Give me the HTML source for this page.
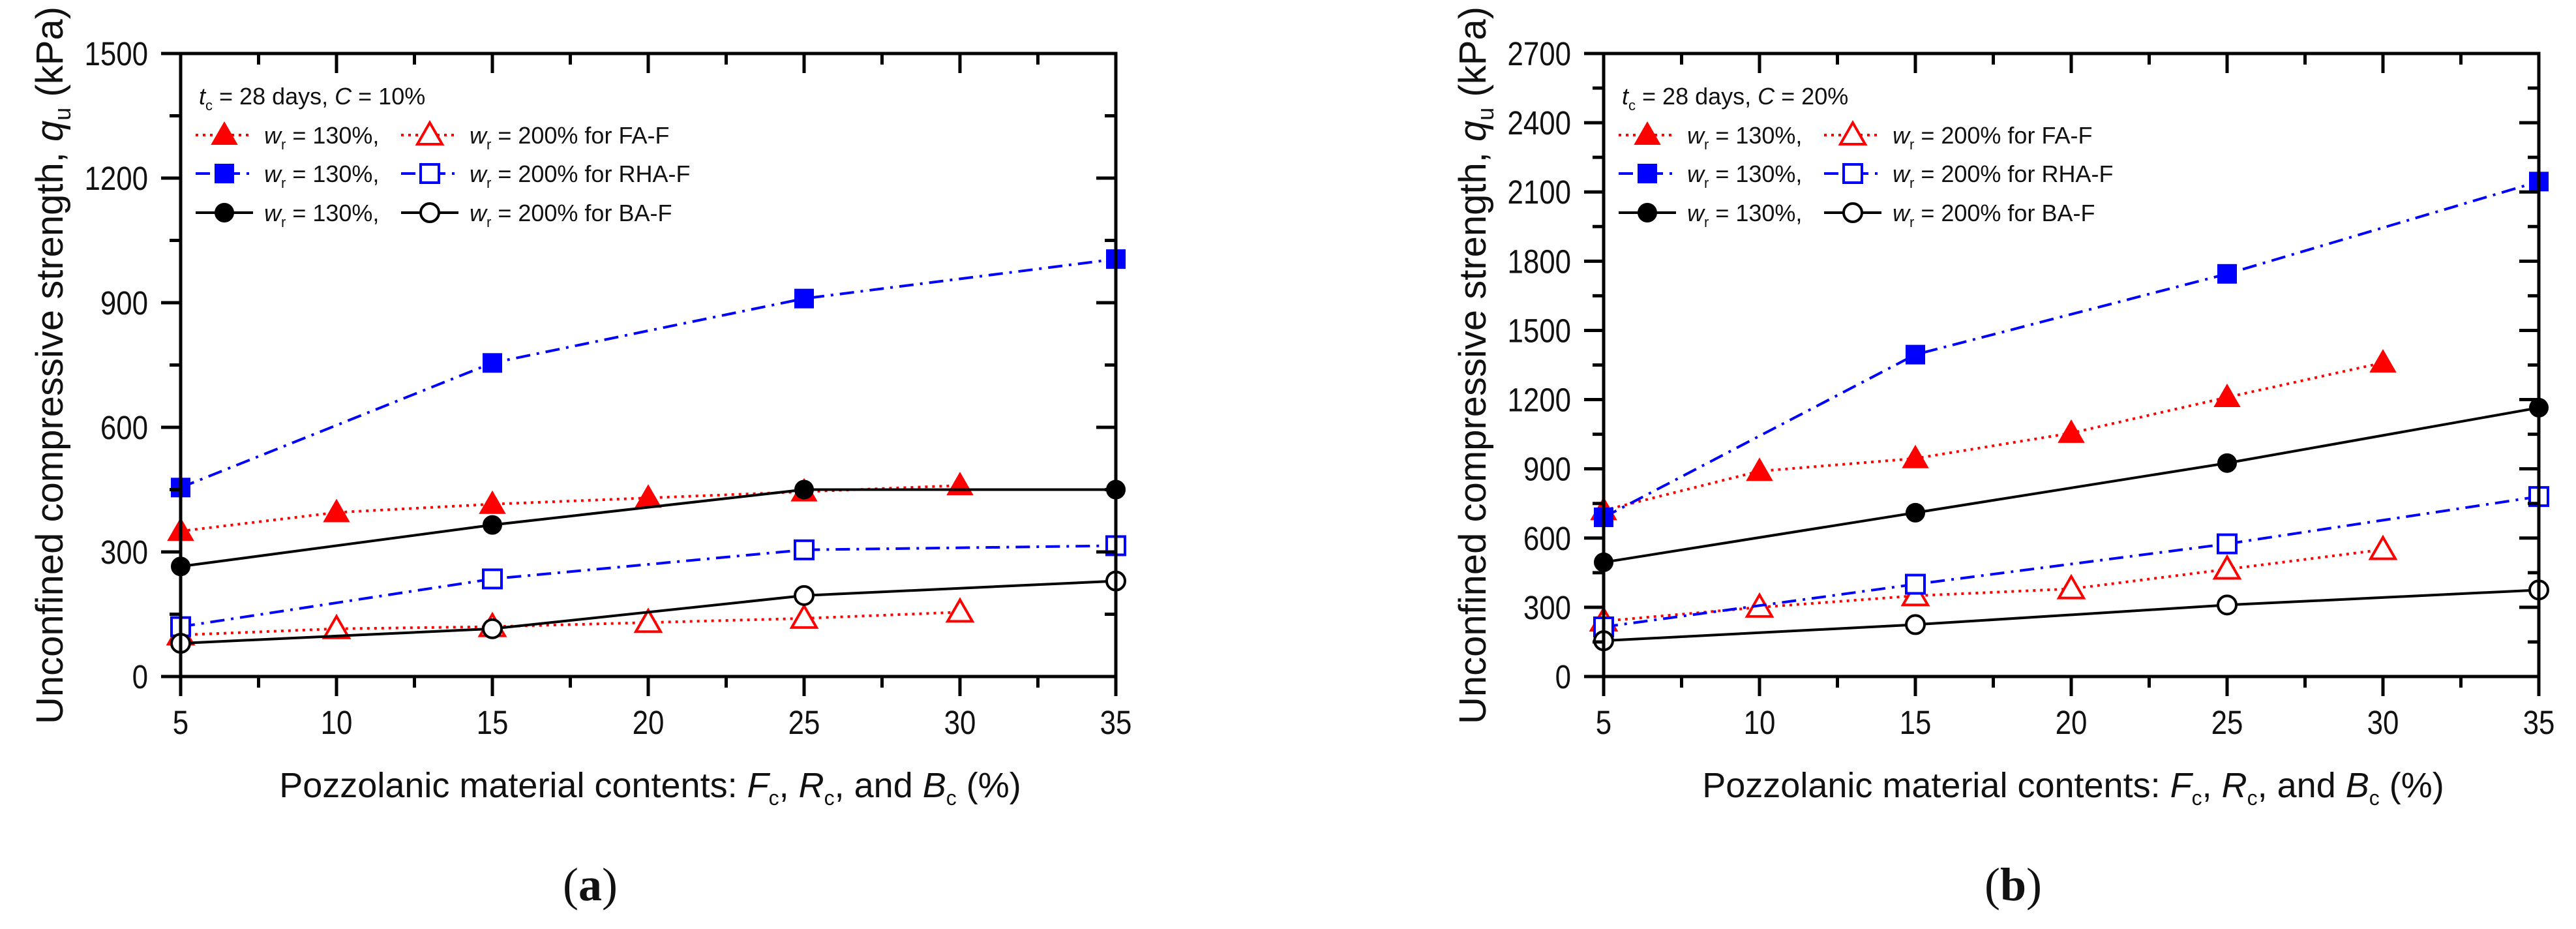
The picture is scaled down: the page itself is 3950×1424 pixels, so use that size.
<!DOCTYPE html>
<html><head><meta charset="utf-8"><style>
html,body{margin:0;padding:0;background:#fff;}
svg{display:block;}
text{font-family:"Liberation Sans",sans-serif;fill:#111;}
</style></head><body>
<svg id="chart" width="3950" height="1424" viewBox="0 0 3950 1424" xmlns="http://www.w3.org/2000/svg"></svg>
<script>
const xCats = [5, 10, 15, 20, 25, 30, 35];
const xTickLabels = ["5","10","15","20","25","30","35"];
const xFA = [5, 10, 15, 20, 25, 30];
const xRB = [5, 15, 25, 35];
// panel a (C = 10%)
const aFA130 = [350, 395, 415, 430, 445, 460];
const aFA200 = [100, 115, 120, 130, 140, 155];
const aRHA130 = [455, 755, 910, 1005];
const aRHA200 = [120, 235, 305, 315];
const aBA130 = [265, 365, 450, 450];
const aBA200 = [80, 115, 195, 230];
const aYTicks = [0, 300, 600, 900, 1200, 1500];
// panel b (C = 20%)
const bFA130 = [720, 890, 945, 1055, 1210, 1360];
const bFA200 = [240, 300, 350, 380, 465, 550];
const bRHA130 = [690, 1395, 1745, 2145];
const bRHA200 = [215, 400, 575, 780];
const bBA130 = [495, 710, 925, 1165];
const bBA200 = [155, 225, 310, 375];
const bYTicks = [0, 300, 600, 900, 1200, 1500, 1800, 2100, 2400, 2700];

const NS = "http://www.w3.org/2000/svg";
const svg = document.getElementById("chart");
function el(tag, attrs, parent, text) {
  const e = document.createElementNS(NS, tag);
  for (const k in attrs) e.setAttribute(k, attrs[k]);
  if (text !== undefined) e.textContent = text;
  (parent || svg).appendChild(e);
  return e;
}
const RED = "#ff0000", BLUE = "#0000ff", BLK = "#000";
const DOT = "4 7", DASHDOT = "22 10 4 10";

function marker(g, type, cx, cy, color, filled) {
  let m;
  if (type === "tri") {
    m = el("polygon", {points: `${cx},${cy-19} ${cx-19},${cy+14} ${cx+19},${cy+14}`}, g);
  } else if (type === "sq") {
    m = el("rect", {x: cx-14, y: cy-14, width: 28, height: 28}, g);
  } else {
    m = el("circle", {cx: cx, cy: cy, r: 14}, g);
  }
  m.setAttribute("fill", filled ? color : "#fff");
  m.setAttribute("stroke", color);
  m.setAttribute("stroke-width", filled ? 2 : 4);
  return m;
}

function panel(ox, yMax, yTicks, series, letter, cLabel) {
  const L = ox + 277, R = ox + 1711, T = 82, B = 1037;
  const xs = v => L + (v - 5) / 30 * (R - L);
  const ys = v => B - v / yMax * (B - T);
  const g = el("g", {});
  
  
  series.forEach(s => {
    const sg = el("g", {}, g);
    
    
    const pts = s.x.map((x, i) => xs(x) + "," + ys(s.y[i])).join(" ");
    const pl = el("polyline", {points: pts, fill: "none", stroke: s.color, "stroke-width": 4}, sg);
    if (s.dash) pl.setAttribute("stroke-dasharray", s.dash);
    s.x.forEach((x, i) => {
      const m = marker(sg, s.type, xs(x), ys(s.y[i]), s.color, s.filled);
      
      
    });
  });
  const ax = el("g", {stroke: BLK, "stroke-width": 5, fill: "none"}, g);
  
  
  el("rect", {x: L, y: T, width: R - L, height: B - T}, ax);
  for (let v = 5; v <= 35.01; v += 2.5) {
    const major = Math.abs((v - 5) % 5) < 0.01;
    const len = major ? 30 : 17;
    el("line", {x1: xs(v), y1: B, x2: xs(v), y2: B + len}, ax);
    el("line", {x1: xs(v), y1: T, x2: xs(v), y2: T + len}, ax);
  }
  const step = yTicks[1] - yTicks[0];
  for (let v = 0; v <= yMax + 0.01; v += step / 2) {
    const major = Math.abs(v % step) < 0.01;
    const len = major ? 30 : 17;
    el("line", {x1: L, y1: ys(v), x2: L - len, y2: ys(v)}, ax);
    el("line", {x1: R, y1: ys(v), x2: R - len, y2: ys(v)}, ax);
  }
  xCats.forEach((c, i) => {
    const t = el("text", {transform: `translate(${xs(c)},1125) scale(0.86,1)`, "text-anchor": "middle", "font-size": 51}, g, xTickLabels[i]);
    
    
  });
  yTicks.forEach(v => {
    const t = el("text", {transform: `translate(${L - 50},${ys(v) + 18}) scale(0.86,1)`, "text-anchor": "end", "font-size": 51}, g, String(v));
    
    
  });
  const yt = el("text", {transform: `translate(${ox + 96},560) rotate(-90)`, "text-anchor": "middle", "font-size": 58}, g);
  
  
  el("tspan", {}, yt, "Unconfined compressive strength, ");
  el("tspan", {"font-style": "italic"}, yt, "q");
  el("tspan", {"font-size": 36, dy: 12}, yt, "u");
  el("tspan", {dy: -12}, yt, " (kPa)");
  const xt = el("text", {x: ox + 997, y: 1222, "text-anchor": "middle", "font-size": 54}, g);
  
  
  el("tspan", {}, xt, "Pozzolanic material contents: ");
  el("tspan", {"font-style": "italic"}, xt, "F");
  el("tspan", {"font-size": 32, dy: 12}, xt, "c");
  el("tspan", {dy: -12}, xt, ", ");
  el("tspan", {"font-style": "italic"}, xt, "R");
  el("tspan", {"font-size": 32, dy: 12}, xt, "c");
  el("tspan", {dy: -12}, xt, ", and ");
  el("tspan", {"font-style": "italic"}, xt, "B");
  el("tspan", {"font-size": 32, dy: 12}, xt, "c");
  el("tspan", {dy: -12}, xt, " (%)");
  const lt = el("text", {x: ox + 905, y: 1380, "text-anchor": "middle", "font-size": 72, style: "font-family:'Liberation Serif',serif"}, g);
  
  
  el("tspan", {}, lt, "(");
  el("tspan", {"font-weight": "bold"}, lt, letter);
  el("tspan", {}, lt, ")");
  const lg = el("g", {}, g);
  
  
  const hd = el("text", {x: ox + 305, y: 160, "font-size": 36}, lg);
  el("tspan", {"font-style": "italic"}, hd, "t");
  el("tspan", {"font-size": 22, dy: 9}, hd, "c");
  el("tspan", {dy: -9}, hd, " = 28 days, ");
  el("tspan", {"font-style": "italic"}, hd, "C");
  el("tspan", {}, hd, " = " + cLabel);
  const rows = [
    ["tri", RED, DOT, "FA-F"], ["sq", BLUE, DASHDOT, "RHA-F"], ["circ", BLK, null, "BA-F"]
  ];
  const ry = [207, 266, 326];
  rows.forEach((r, i) => {
    const eg = el("g", {}, lg);
    
    
    [[300, 388, 344, true], [615, 703, 659, false]].forEach(p => {
      const ln = el("line", {x1: ox + p[0], y1: ry[i], x2: ox + p[1], y2: ry[i], stroke: r[1], "stroke-width": 4}, eg);
      if (r[2]) ln.setAttribute("stroke-dasharray", r[2]);
      marker(eg, r[0], ox + p[2], ry[i], r[1], p[3]);
    });
    const t1 = el("text", {x: ox + 405, y: ry[i] + 13, "font-size": 36}, eg);
    el("tspan", {"font-style": "italic"}, t1, "w");
    el("tspan", {"font-size": 22, dy: 9}, t1, "r");
    el("tspan", {dy: -9}, t1, " = 130%,");
    const t2 = el("text", {x: ox + 720, y: ry[i] + 13, "font-size": 36}, eg);
    el("tspan", {"font-style": "italic"}, t2, "w");
    el("tspan", {"font-size": 22, dy: 9}, t2, "r");
    el("tspan", {dy: -9}, t2, " = 200% for " + r[3]);
  });
}

function mk(fa130, fa200, r130, r200, b130, b200) {
  return [
    {name: "series-fa-f-130", x: xFA, y: fa130, color: RED, dash: DOT, type: "tri", filled: true},
    {name: "series-fa-f-200", x: xFA, y: fa200, color: RED, dash: DOT, type: "tri", filled: false},
    {name: "series-rha-f-130", x: xRB, y: r130, color: BLUE, dash: DASHDOT, type: "sq", filled: true},
    {name: "series-rha-f-200", x: xRB, y: r200, color: BLUE, dash: DASHDOT, type: "sq", filled: false},
    {name: "series-ba-f-130", x: xRB, y: b130, color: BLK, dash: null, type: "circ", filled: true},
    {name: "series-ba-f-200", x: xRB, y: b200, color: BLK, dash: null, type: "circ", filled: false}
  ];
}
panel(0, 1500, aYTicks, mk(aFA130, aFA200, aRHA130, aRHA200, aBA130, aBA200), "a", "10%");
panel(2182, 2700, bYTicks, mk(bFA130, bFA200, bRHA130, bRHA200, bBA130, bBA200), "b", "20%");
</script>
</body></html>
